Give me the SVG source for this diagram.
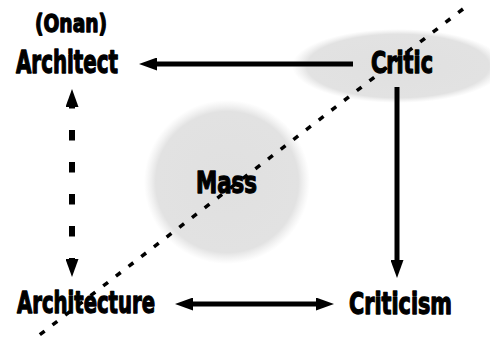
<svg xmlns="http://www.w3.org/2000/svg" width="490" height="339" viewBox="0 0 490 339">
  <style>
    .lbl { font-family: 'DejaVu Sans Condensed', 'DejaVu Sans', 'Liberation Sans', sans-serif; font-weight: bold; font-stretch: condensed; fill: #000; stroke: #000; stroke-width: 1.3; stroke-linejoin: round; }
    .conn { stroke: #000; stroke-width: 5; fill: none; }
    .dashed { stroke-width: 6; stroke-dasharray: 10.5 21.5; stroke-dashoffset: 8; }
    .divider { stroke: #000; stroke-width: 3.5; fill: none; stroke-dasharray: 6 10; }
  </style>
  <defs>
    <radialGradient id="stipple" cx="0.5" cy="0.5" r="0.5">
      <stop offset="0" stop-color="#e0e0e0"/>
      <stop offset="0.86" stop-color="#e2e2e2"/>
      <stop offset="1" stop-color="#e8e8e8" stop-opacity="0"/>
    </radialGradient>
    <marker id="head" viewBox="0 0 18 13" markerWidth="18" markerHeight="13" refX="1" refY="6.5" orient="auto-start-reverse" markerUnits="userSpaceOnUse">
      <path d="M0,0 L18,6.5 L0,13 z" fill="#000"/>
    </marker>
  </defs>
  <rect width="490" height="339" fill="#fff"/>

  <g id="backgrounds">
    <ellipse cx="398" cy="66" rx="106" ry="37" fill="url(#stipple)"/>
    <ellipse cx="227" cy="182" rx="83" ry="82" fill="url(#stipple)"/>
  </g>

  <g id="divider">
    <line class="divider" x1="463" y1="9" x2="33" y2="340"/>
  </g>

  <g id="connectors">
    <line class="conn" x1="353" y1="64" x2="156" y2="64" marker-end="url(#head)"/>
    <line class="conn" x1="397" y1="87" x2="397" y2="261" marker-end="url(#head)"/>
    <line class="conn" x1="192" y1="304" x2="317" y2="304" marker-start="url(#head)" marker-end="url(#head)"/>
    <line class="conn dashed" x1="72" y1="106" x2="72" y2="260" marker-start="url(#head)" marker-end="url(#head)"/>
  </g>

  <g id="node-architect">
    <text class="lbl" x="35" y="32" font-size="25" textLength="72" lengthAdjust="spacingAndGlyphs">(Onan)</text>
    <text class="lbl" x="16" y="73" font-size="32" textLength="102" lengthAdjust="spacingAndGlyphs">Architect</text>
  </g>
  <g id="node-critic">
    <text class="lbl" x="371" y="73" font-size="31" textLength="62" lengthAdjust="spacingAndGlyphs">Critic</text>
  </g>
  <g id="node-mass">
    <text class="lbl" x="196" y="193" font-size="31" textLength="61" lengthAdjust="spacingAndGlyphs">Mass</text>
  </g>
  <g id="node-architecture">
    <text class="lbl" x="17" y="313" font-size="31" textLength="138" lengthAdjust="spacingAndGlyphs">Architecture</text>
  </g>
  <g id="node-criticism">
    <text class="lbl" x="349" y="314" font-size="31" textLength="103" lengthAdjust="spacingAndGlyphs">Criticism</text>
  </g>
</svg>
